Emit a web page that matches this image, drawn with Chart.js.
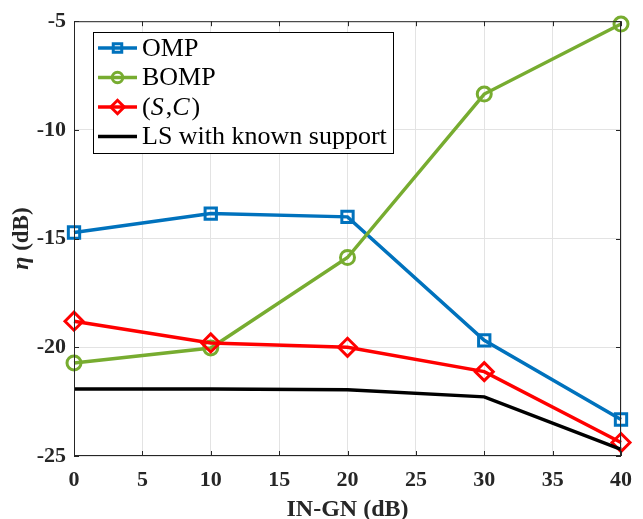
<!DOCTYPE html>
<html>
<head>
<meta charset="utf-8">
<script src="https://cdn.jsdelivr.net/npm/chart.js@4.4.0/dist/chart.umd.min.js"></script>
<style>
  body { margin: 0; background: #fff; }
  #wrap { width: 643px; height: 519px; }
</style>
</head>
<body>
<div id="wrap"><canvas id="myChart" width="643" height="519"></canvas></div>
<script>
// IN-GN (dB) on the x axis
const ingn = [0, 10, 20, 30, 40];
const xTicks = [0, 5, 10, 15, 20, 25, 30, 35, 40];
const yTicks = [-25, -20, -15, -10, -5];

// eta (dB) per method
const omp   = [-14.72, -13.85, -14.0, -19.68, -23.32];
const bomp  = [-20.72, -20.03, -15.87, -8.35, -5.13];
const sc    = [-18.8, -19.8, -20.0, -21.12, -24.38];
const lsKnown = [-21.92, -21.92, -21.95, -22.28, -24.7];

const seriesNames = ['OMP', 'BOMP', '(S,C)', 'LS with known support'];

const toPts = ys => ys.map((y, i) => ({ x: ingn[i], y: y }));

// mathtext-ish bits for the (S,C) label
const richLabels = {
  '(S,C)': [['(', 'normal'], ['S', 'italic'], [',', 'normal'], ['C', 'italic'], [')', 'normal']]
};

const frameAndLegend = {
  id: 'frameAndLegend',
  afterDraw(chart) {
    const ctx = chart.ctx;
    const a = chart.chartArea;
    const xs = chart.scales.x, ys = chart.scales.y;
    ctx.save();
    // box + inward ticks, matlab style
    ctx.strokeStyle = '#262626';
    ctx.lineWidth = 1;
    ctx.strokeRect(a.left + 0.5, a.top + 0.5, a.right - a.left - 1, a.bottom - a.top - 1);
    ctx.beginPath();
    xTicks.forEach(v => {
      const px = Math.round(xs.getPixelForValue(v)) + 0.5;
      ctx.moveTo(px, a.bottom); ctx.lineTo(px, a.bottom - 5);
      ctx.moveTo(px, a.top); ctx.lineTo(px, a.top + 5);
    });
    yTicks.forEach(v => {
      const py = Math.round(ys.getPixelForValue(v)) + 0.5;
      ctx.moveTo(a.left, py); ctx.lineTo(a.left + 5, py);
      ctx.moveTo(a.right, py); ctx.lineTo(a.right - 5, py);
    });
    ctx.stroke();

    // y title: italic eta + upright (dB)
    ctx.save();
    ctx.translate(22, (a.top + a.bottom) / 2);
    ctx.rotate(-Math.PI / 2);
    ctx.fillStyle = '#262626';
    ctx.textBaseline = 'middle';
    ctx.font = 'italic bold 24px "Liberation Serif"';
    const w1 = ctx.measureText('η').width;
    ctx.font = 'bold 23px "Liberation Serif"';
    const w2 = ctx.measureText(' (dB)').width;
    let sx = -(w1 + w2) / 2;
    ctx.font = 'italic bold 24px "Liberation Serif"';
    ctx.textAlign = 'left';
    ctx.fillText('η', sx, 0);
    ctx.font = 'bold 23px "Liberation Serif"';
    ctx.fillText(' (dB)', sx + w1, 0);
    ctx.restore();

    // legend box
    const lx = 93, ly = 32, lw = 300, lh = 121;
    ctx.fillStyle = '#fff';
    ctx.fillRect(lx, ly, lw, lh);
    ctx.strokeStyle = '#000';
    ctx.lineWidth = 1;
    ctx.strokeRect(lx + 0.5, ly + 0.5, lw, lh);
    const rowH = 29.5;
    chart.data.datasets.forEach((ds, i) => {
      const cy = ly + 16 + i * rowH;
      ctx.strokeStyle = ds.borderColor;
      ctx.lineWidth = 3.5;
      ctx.beginPath();
      ctx.moveTo(lx + 5, cy); ctx.lineTo(lx + 44, cy);
      ctx.stroke();
      if (ds.pointStyle) {
        ctx.fillStyle = 'rgba(0,0,0,0)';
        ctx.lineWidth = 3;
        Chart.helpers.drawPoint(ctx, {
          pointStyle: ds.pointStyle, radius: ds.pointRadius * 0.75, rotation: 0,
          borderWidth: 3
        }, lx + 24.5, cy);
      }
      ctx.fillStyle = '#000';
      ctx.textBaseline = 'middle';
      ctx.textAlign = 'left';
      let tx = lx + 49;
      const parts = richLabels[ds.label] || [[ds.label, 'normal']];
      parts.forEach(p => {
        ctx.font = p[1] + ' 26px "Liberation Serif"';
        ctx.fillText(p[0], tx, cy + 1);
        tx += ctx.measureText(p[0]).width + (p[1] === 'italic' ? 2 : 0);
      });
    });
    ctx.restore();
  }
};

const colors = ['#0072BD', '#77AC30', '#FF0000', '#000000'];
const styles = ['rect', 'circle', 'rectRot', false];
const radii = [8, 7, 9, 0];

const config = {
  type: 'line',
  data: {
    datasets: [omp, bomp, sc, lsKnown].map((d, i) => ({
      label: seriesNames[i],
      data: toPts(d),
      borderColor: colors[i],
      backgroundColor: 'rgba(0,0,0,0)',
      borderWidth: 3.5,
      pointStyle: styles[i],
      pointRadius: radii[i],
      pointBorderWidth: 3,
      pointBorderColor: colors[i],
      pointBackgroundColor: 'rgba(0,0,0,0)',
      tension: 0,
      fill: false,
      clip: false,
      order: 4 - i
    }))
  },
  options: {
    responsive: false,
    animation: false,
    layout: { padding: { top: 16, right: 13, left: 0, bottom: 0 } },
    plugins: { legend: { display: false }, tooltip: { enabled: false } },
    scales: {
      x: {
        type: 'linear', min: 0, max: 40,
        afterBuildTicks: s => { s.ticks = xTicks.map(v => ({ value: v })); },
        afterFit: s => { s.height = 63; },
        grid: { color: '#e3e3e3', drawTicks: false },
        border: { display: false },
        ticks: { color: '#262626', padding: 11, maxRotation: 0,
          font: { family: 'Liberation Serif', size: 22, weight: 'bold' } },
        title: { display: true, text: 'IN-GN (dB)', color: '#262626', padding: { top: 4, bottom: -5 },
          font: { family: 'Liberation Serif', size: 24, weight: 'bold' } }
      },
      y: {
        type: 'linear', min: -25, max: -5,
        afterBuildTicks: s => { s.ticks = yTicks.map(v => ({ value: v })); },
        afterFit: s => { s.width = 74; },
        grid: { color: '#e3e3e3', drawTicks: false },
        border: { display: false },
        ticks: { color: '#262626', padding: 8,
          font: { family: 'Liberation Serif', size: 22, weight: 'bold' } },
        title: { display: false, text: 'η (dB)' }
      }
    }
  },
  plugins: [frameAndLegend]
};

new Chart(document.getElementById('myChart'), config);
</script>
</body>
</html>
